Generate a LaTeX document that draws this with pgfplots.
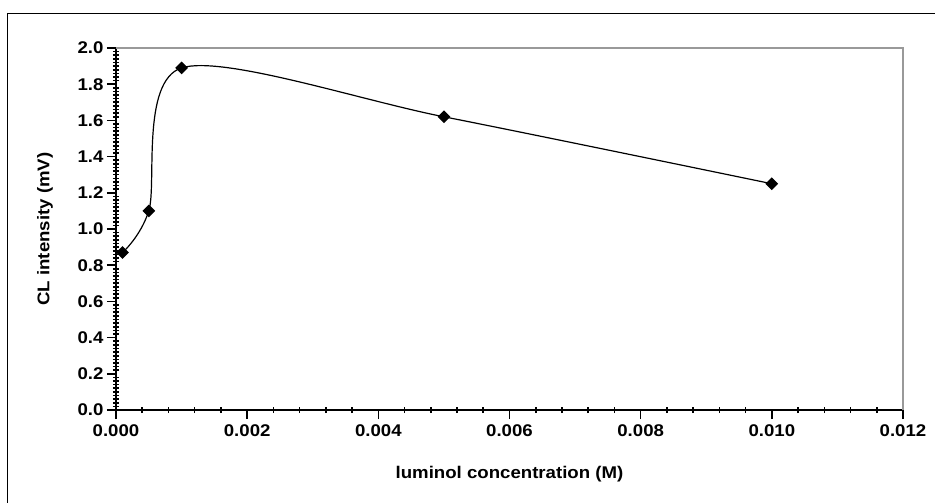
\documentclass[border=0pt]{standalone}
\usepackage{fontspec}
\setmainfont{Liberation Sans}
\newfontfamily\chartfont[FakeStretch=1.1]{Liberation Sans}
\usepackage{pgfplots}
\pgfplotsset{compat=1.18}
\definecolor{framegray}{HTML}{999999}
\begin{document}
\begin{tikzpicture}
\useasboundingbox (-116bp,-93bp) rectangle (819bp,410bp);
\draw[line width=1bp,black] (-108bp,-95bp) -- (-108bp,396bp) -- (821bp,396bp);
\begin{axis}[
  scale only axis,
  width=787bp, height=362bp,
  xmin=0, xmax=0.012, ymin=0, ymax=2.0,
  axis lines=left,
  axis line style={-, line width=2.2bp, black},
  xtick={0,0.002,0.004,0.006,0.008,0.010,0.012},
  ytick={0,0.2,0.4,0.6,0.8,1.0,1.2,1.4,1.6,1.8,2.0},
  minor x tick num=4,
  minor y tick num=9,
  tick align=outside,
  major tick length=9bp,
  minor tick length=6bp,
  minor x tick style={yshift=3bp},
  minor y tick style={xshift=3bp},
  tick style={line width=1.6bp, black},
  scaled x ticks=false,
  /pgf/number format/assume math mode=true,
  xticklabel style={anchor=north, yshift=-2bp, /pgf/number format/.cd, fixed, fixed zerofill, precision=3},
  yticklabel style={anchor=east, /pgf/number format/.cd, fixed, fixed zerofill, precision=1},
  ticklabel style={font=\chartfont\fontsize{17}{20}\selectfont\bfseries},
  every axis y label/.style={at={(axis description cs:-0.0902,0.5)}, rotate=90, anchor=center},
  every axis x label/.style={at={(axis description cs:0.5,-0.1768)}, anchor=center},
  label style={font=\chartfont\fontsize{17}{20}\selectfont\bfseries},
  xlabel={luminol concentration (M)},
  ylabel={CL intensity (mV)},
  clip=false,
]
\draw[framegray, line width=1.5bp] (rel axis cs:0,1) -- (rel axis cs:1,1) -- (rel axis cs:1,0);
\addplot[black, line width=1.2bp, smooth, mark=square*, mark size=3.9bp, mark options={rotate=45, solid, fill=black}]
coordinates {
(0.0001,0.87)
(0.0005,1.10)
(0.001,1.89)
(0.005,1.62)
(0.010,1.25)
};
\end{axis}
\end{tikzpicture}
\end{document}
